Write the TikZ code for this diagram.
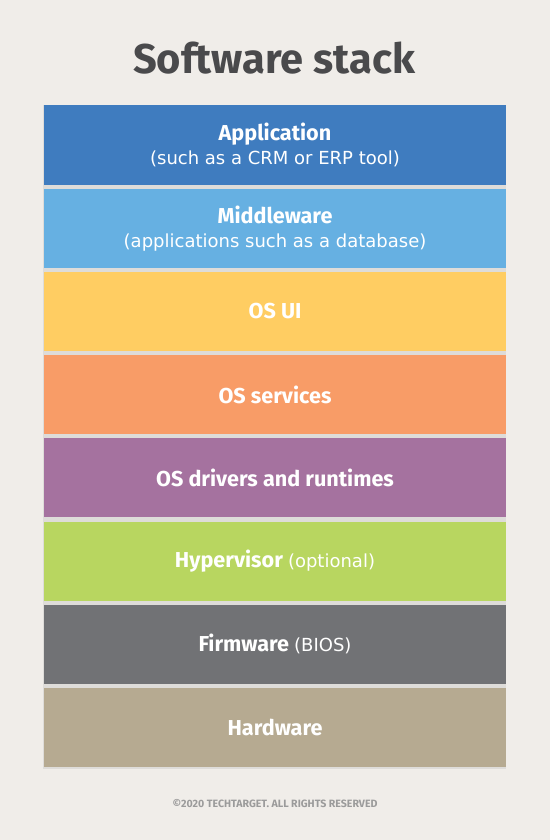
\documentclass[tikz,border=0pt]{standalone}
\usepackage{fontspec}
\setmainfont{Fira Sans}
\newfontfamily\notefont{DejaVu Sans}
\definecolor{bgcol}{HTML}{F0EDE9}
\definecolor{gapcol}{HTML}{DEDCD9}
\definecolor{titlecol}{HTML}{4A4A4C}
\definecolor{footcol}{HTML}{9B9B9B}
\definecolor{appcol}{HTML}{3F7CBF}
\definecolor{midcol}{HTML}{66B0E2}
\definecolor{uicol}{HTML}{FFCD62}
\definecolor{svccol}{HTML}{F89C67}
\definecolor{drvcol}{HTML}{A5729F}
\definecolor{hypcol}{HTML}{B8D660}
\definecolor{fwcol}{HTML}{717275}
\definecolor{hwcol}{HTML}{B6AA91}
\tikzset{
    layer/.style={fill=#1, minimum width=231pt, minimum height=39.5pt,
        inner sep=0pt, text=white, align=center,
        font=\fontsize{10.8}{13}\selectfont\bfseries},
}
\newcommand{\sub}[1]{{\notefont\mdseries\fontsize{9}{10}\selectfont #1}}
\begin{document}
\begin{tikzpicture}[x=0.5pt, y=-0.5pt]
    \useasboundingbox (0, 0) rectangle (550, 840);
    \fill[bgcol] (0, 0) rectangle (550, 840);
    % backing strip behind the layers
    \fill[gapcol] (42.5, 105) rectangle (506, 769);
    \node[text=titlecol, font=\fontsize{20.8}{24}\selectfont\bfseries] (title) at (274, 58) {Software stack};
    \node[layer=appcol] (app) at (275, 145) {Application\\[-1pt] \sub{(such as a CRM or ERP tool)}};
    \node[layer=midcol] (mid) at (275, 228.2) {Middleware\\[-1pt] \sub{(applications such as a database)}};
    \node[layer=uicol] (osui) at (275, 311.4) {OS UI};
    \node[layer=svccol] (ossvc) at (275, 394.6) {OS services};
    \node[layer=drvcol] (drv) at (275, 477.8) {OS drivers and runtimes};
    \node[layer=hypcol] (hyp) at (275, 561) {Hypervisor \sub{(optional)}};
    \node[layer=fwcol] (fw) at (275, 644.2) {Firmware \sub{(BIOS)}};
    \node[layer=hwcol] (hw) at (275, 727.4) {Hardware};
    \node[text=footcol, font=\fontsize{5.3}{6}\selectfont\bfseries] (foot) at (275, 804) {©2020 TECHTARGET. ALL RIGHTS RESERVED};
\end{tikzpicture}
\end{document}
